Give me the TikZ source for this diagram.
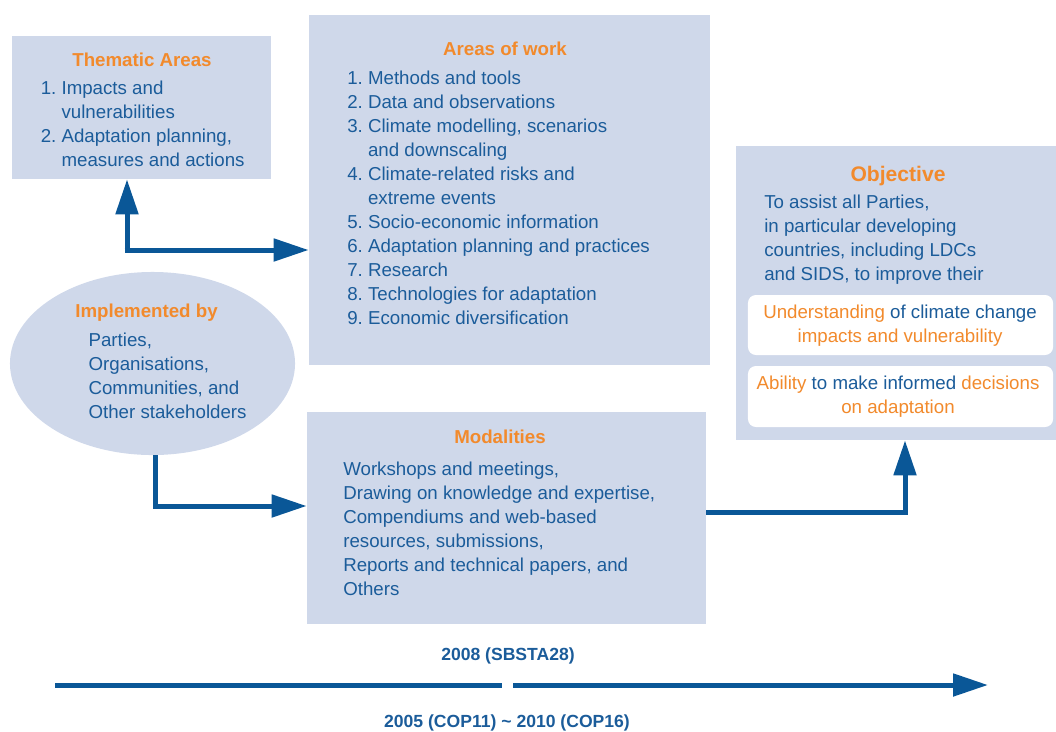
\documentclass[tikz,border=0pt]{standalone}
\usepackage{fontspec}
\setmainfont{Liberation Sans}
\usetikzlibrary{arrows.meta, shapes.geometric, positioning, calc}

\definecolor{panelblue}{HTML}{CFD8EA}
\definecolor{textblue}{HTML}{1B5C9A}
\definecolor{arrowblue}{HTML}{0A5797}
\definecolor{headorange}{HTML}{F28A2C}

\begin{document}
\begin{tikzpicture}[x=0.025cm, y=-0.025cm]
\tikzstyle{panel}=[fill=panelblue, draw=none, inner sep=0pt]
\tikzstyle{whitebox}=[fill=white, draw=none, rounded corners=0.2cm, inner sep=0pt]
\tikzstyle{head}=[text=headorange, font=\fontsize{13.3}{17}\selectfont\bfseries, inner sep=0pt, anchor=base]
\tikzstyle{body}=[text=textblue, font=\fontsize{13.3}{17}\selectfont, align=left, inner sep=0pt, anchor=base west]
\tikzstyle{flow}=[draw=arrowblue, line width=0.125cm, -{Triangle[length=0.875cm, width=0.55cm]}]
\tikzstyle{stamp}=[text=textblue, font=\fontsize{12.5}{15}\selectfont\bfseries, inner sep=0pt, anchor=base]
\newcommand{\hl}[1]{\textcolor{headorange}{#1}}
\useasboundingbox (0,0) rectangle (1056,731);

% boxes
\node (thematic) [panel, minimum width=6.475cm, minimum height=3.575cm] at (141.5,107.5) {};
\node (areas) [panel, minimum width=10.025cm, minimum height=8.75cm] at (509.5,190) {};
\node (impl) [panel, ellipse, minimum width=7.125cm, minimum height=4.575cm] at (152.5,363.5) {};
\node (modal) [panel, minimum width=9.975cm, minimum height=5.3cm] at (506.5,518) {};
\node (obj) [panel, minimum width=8cm, minimum height=7.35cm] at (896,293) {};
\node (underst) [whitebox, minimum width=7.625cm, minimum height=1.5cm] at (900.5,325) {};
\node (ability) [whitebox, minimum width=7.625cm, minimum height=1.525cm] at (900.5,396.5) {};

% texts (multi-line nodes sit on their last line)
\node (thematichead) [head] at (142,66) {Thematic Areas};
\node (thematiclist) [body] at (40.5,166) {1.\ Impacts and\\ \phantom{1.\ }vulnerabilities\\ 2.\ Adaptation planning,\\ \phantom{2.\ }measures and actions};

\node (areashead) [head] at (505,55) {Areas of work};
\node (areaslist) [body] at (347,324) {1.\ Methods and tools\\ 2.\ Data and observations\\ 3.\ Climate modelling, scenarios\\ \phantom{3.\ }and downscaling\\ 4.\ Climate-related risks and\\ \phantom{4.\ }extreme events\\ 5.\ Socio-economic information\\ 6.\ Adaptation planning and practices\\ 7.\ Research\\ 8.\ Technologies for adaptation\\ 9.\ Economic diversification};

\node (implhead) [head] at (146.5,317.5) {Implemented by};
\node (impllist) [body] at (88.3,418) {Parties,\\ Organisations,\\ Communities, and\\ Other stakeholders};

\node (modalhead) [head] at (500,443) {Modalities};
\node (modallist) [body] at (343,595) {Workshops and meetings,\\ Drawing on knowledge and expertise,\\ Compendiums and web-based\\ resources, submissions,\\ Reports and technical papers, and\\ Others};

\node (objhead) [head, font=\fontsize{15}{17}\selectfont\bfseries] at (898,181) {Objective};
\node (objtext) [body] at (764,280) {To assist all Parties,\\ in particular developing\\ countries, including LDCs\\ and SIDS, to improve their};
\node (understtext) [body, align=center, anchor=base] at (900,342) {\hl{Understanding} of climate change\\ \hl{impacts and vulnerability}};
\node (abilitytext) [body, align=center, anchor=base] at (898,413) {\hl{Ability} to make informed \hl{decisions}\\ \hl{on adaptation}};

% connectors
\coordinate (fork) at (127,250);
\draw [flow] (fork) -- (fork |- thematic.south);
\draw [flow] ([xshift=-0.06cm]fork) -- (fork -| areas.west);
\coordinate (bend) at (155,506);
\draw [flow] (impl.south -| bend) |- (bend -| modal.west);
\coordinate (rise) at (905,512);
\draw [flow] (rise -| modal.east) -| (rise |- obj.south);

% timeline
\coordinate (tstart) at (55,685);
\coordinate (tbreak) at (502,685);
\coordinate (tresume) at (513,685);
\coordinate (tend) at (988,685);
\draw [draw=arrowblue, line width=0.125cm] (tstart) -- (tbreak);
\draw [flow] (tresume) -- (tend);
\node (sbsta) [stamp] at (508,660) {2008 (SBSTA28)};
\node (cop) [stamp] at (507,727) {2005 (COP11) \textasciitilde\ 2010 (COP16)};

\end{tikzpicture}
\end{document}
